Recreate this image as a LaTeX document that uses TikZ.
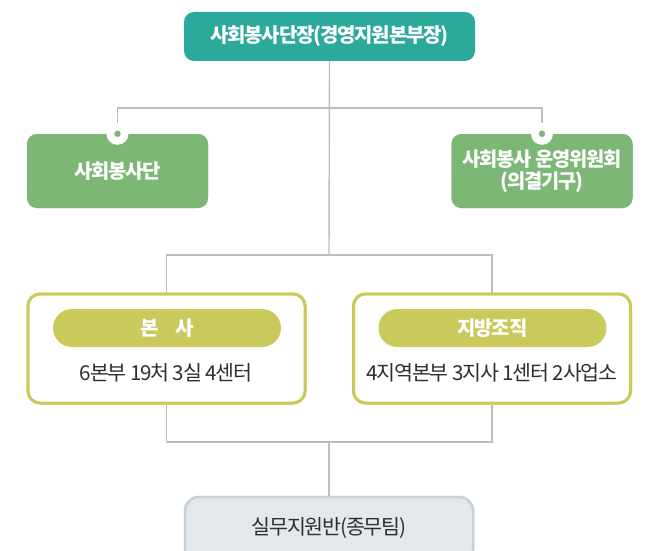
\documentclass[tikz,border=0pt]{standalone}
\usepackage{fontspec}
\newfontfamily\kr[LetterSpace=-6]{Noto Sans CJK KR}
\definecolor{teal1}{HTML}{2BA99A}
\definecolor{green1}{HTML}{7DB776}
\definecolor{olive1}{HTML}{C9CA5B}
\definecolor{line1}{HTML}{BDBDBD}
\definecolor{ops1}{HTML}{E2E8EC}
\definecolor{opsb}{HTML}{C9D1D7}
\definecolor{txt1}{HTML}{2E2E2E}
\tikzset{
  conn/.style={draw=line1, line width=1.4pt},
  topbox/.style={fill=teal1, rounded corners=10pt, minimum width=291pt, minimum height=49pt, inner sep=0pt, text=white, font=\kr\bfseries\fontsize{20}{22}\selectfont},
  greenbox/.style={fill=green1, rounded corners=10pt, minimum width=181pt, minimum height=74pt, inner sep=0pt, text=white, align=center, font=\kr\bfseries\fontsize{19.8}{21.5}\selectfont},
  outerbox/.style={draw=olive1, fill=white, line width=3pt, rounded corners=12pt, minimum width=277pt, minimum height=109pt, inner sep=0pt},
  pill/.style={fill=olive1, rounded corners=19pt, minimum width=228pt, minimum height=38pt, inner sep=0pt, text=white, font=\kr\bfseries\fontsize{20}{22}\selectfont},
  subtext/.style={text=txt1, inner sep=0pt, font=\kr\fontsize{20.6}{22}\selectfont},
  opsbox/.style={fill=ops1, draw=opsb, line width=2.5pt, rounded corners=14pt, minimum width=288pt, minimum height=66pt, inner sep=0pt},
}
\begin{document}
\begin{tikzpicture}[x=1pt,y=-1pt]
\path[use as bounding box] (0,0) rectangle (651,551);
\clip (0,0) rectangle (651,551);
\coordinate (j1) at (329,108);
\coordinate (j2) at (329,255);
\coordinate (j3) at (329,442);
% connectors
\node[topbox] (top) at (329.5,36.5) {사회봉사단장(경영지원본부장)};
\node[greenbox] (sad) at (117.5,171) {};
\node[greenbox] (com) at (542,171) {};
\draw[conn] (top.south) -- (j2);
\draw[conn] (sad.north) |- (j1) -| (com.north);
\node[outerbox] (hq) at (166.5,348.5) {};
\node[outerbox] (reg) at (492,348.5) {};
\draw[conn] (hq.north) |- (j2) -| (reg.north);
\node[opsbox] (ops) at (329,530) {};
\draw[conn] (hq.south) |- (j3) -| (reg.south);
\draw[conn] (j3) -- (ops.north);
% redraw boxes above connectors
\node[greenbox] at (sad) {사회봉사단};
\node[greenbox] at (com) {사회봉사 운영위원회\\(의결기구)};
\fill[white] (sad.north) circle (11pt);
\fill[white] (com.north) circle (11pt);
\fill[green1] (sad.north) circle (3.2pt);
\fill[green1] (com.north) circle (3.2pt);
\node[outerbox] at (hq) {};
\node[outerbox] at (reg) {};
\node[pill] (hqp) at (167,328) {본\hspace{0.8em}사};
\node[pill] (regp) at (492.5,328) {지방조직};
\node[subtext] (hqt) at (166,373) {6본부 19처 3실 4센터};
\node[subtext] (regt) at (492,373) {4지역본부 3지사 1센터 2사업소};
\node[opsbox] at (ops) {};
\node[subtext] (opst) at (329,528) {실무지원반(종무팀)};
\end{tikzpicture}
\end{document}
